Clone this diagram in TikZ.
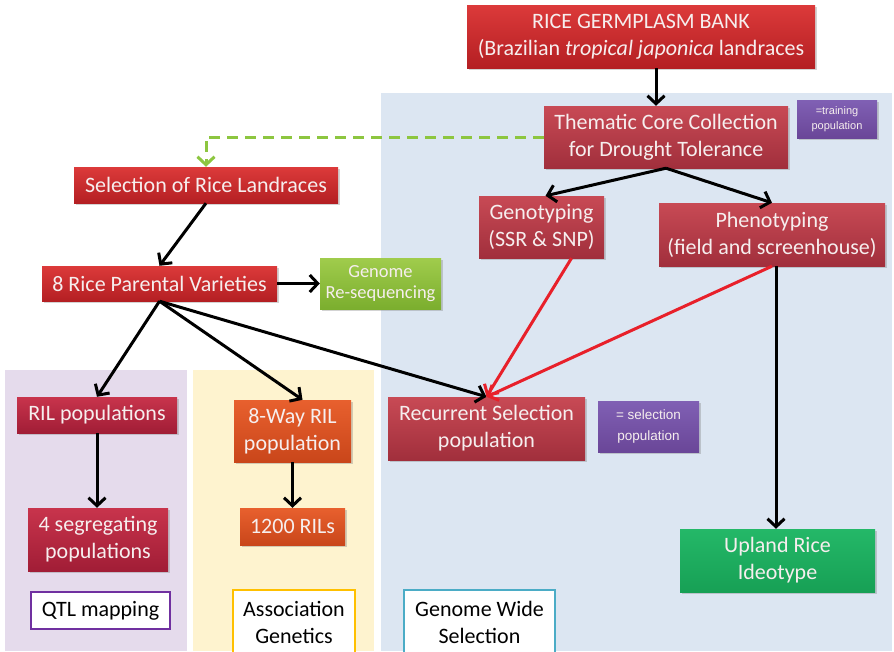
\documentclass[tikz,border=0pt]{standalone}
\usepackage{fontspec}
\setmainfont{Carlito}
\newfontfamily\arialf{Liberation Sans}
\usetikzlibrary{arrows.meta,shadows}
\definecolor{bgblue}{HTML}{DCE6F2}
\definecolor{bgpurple}{HTML}{E5DBEC}
\definecolor{bgyellow}{HTML}{FEF3CF}
\definecolor{redA}{HTML}{DC3A3A}
\definecolor{redB}{HTML}{B41F23}
\definecolor{mutA}{HTML}{C84A55}
\definecolor{mutB}{HTML}{A12F3C}
\definecolor{crimA}{HTML}{C8344C}
\definecolor{crimB}{HTML}{A11D36}
\definecolor{orA}{HTML}{E8602E}
\definecolor{orB}{HTML}{C9461A}
\definecolor{purA}{HTML}{8060B4}
\definecolor{purB}{HTML}{6A4698}
\definecolor{lgA}{HTML}{A0CC4C}
\definecolor{lgB}{HTML}{7BAE2E}
\definecolor{dgA}{HTML}{24B868}
\definecolor{dgB}{HTML}{17A055}
\definecolor{txt}{HTML}{F6EEEE}
\definecolor{dashgreen}{HTML}{8DC640}
\definecolor{arrred}{HTML}{E8202A}
\definecolor{qtlb}{HTML}{7030A0}
\definecolor{assb}{HTML}{FFC000}
\definecolor{gwsb}{HTML}{4BACC6}
\tikzset{
  boxbase/.style={rectangle, inner sep=2pt, align=center, text=txt,
    font=\fontsize{22}{27}\selectfont,
    drop shadow={shadow xshift=1.5pt, shadow yshift=-2pt, opacity=0.35}},
  redbox/.style={boxbase, top color=redA, bottom color=redB},
  mutbox/.style={boxbase, top color=mutA, bottom color=mutB},
  crimbox/.style={boxbase, top color=crimA, bottom color=crimB},
  orbox/.style={boxbase, top color=orA, bottom color=orB},
  purbox/.style={boxbase, top color=purA, bottom color=purB, font=\arialf\fontsize{11}{15}\selectfont},
  lgbox/.style={boxbase, top color=lgA, bottom color=lgB, font=\fontsize{18.5}{21}\selectfont},
  dgbox/.style={boxbase, top color=dgA, bottom color=dgB},
  labbox/.style={rectangle, fill=white, line width=2pt, align=center, text=black,
    font=\fontsize{22}{27}\selectfont},
  tip/.style={-{Straight Barb[length=8pt,width=17pt,line width=3pt]}},
  arr/.style={line width=3pt, tip},
}
\begin{document}
\begin{tikzpicture}[x=1pt,y=-1pt]
\useasboundingbox (0,0) rectangle (894,651);
% background panels
\fill[bgblue] (381,93) rectangle (892,651);
\fill[bgpurple] (5,370) rectangle (187,651);
\fill[bgyellow] (193,370) rectangle (374,651);

% nodes
\node[redbox, minimum width=348, minimum height=63] (bank) at (641,36.5)
  {RICE GERMPLASM BANK\\(Brazilian \textit{tropical japonica} landraces};
\node[mutbox, minimum width=244, minimum height=62] (core) at (666,137)
  {Thematic Core Collection\\for Drought Tolerance};
\node[purbox, minimum width=80, minimum height=38] (train) at (837,119)
  {=training\\population};
\node[redbox, minimum width=264, minimum height=36] (sel) at (206,185)
  {Selection of Rice Landraces};
\node[mutbox, minimum width=125, minimum height=62] (geno) at (541.5,227)
  {Genotyping\\(SSR \& SNP)};
\node[mutbox, minimum width=226, minimum height=63] (pheno) at (772,234.5)
  {Phenotyping\\(field and screenhouse)};
\node[redbox, minimum width=235, minimum height=35] (par) at (159.5,283.5)
  {8 Rice Parental Varieties};
\node[lgbox, minimum width=121, minimum height=51] (reseq) at (380.5,283.5)
  {Genome\\Re-sequencing};
\node[crimbox, minimum width=160, minimum height=36] (ril) at (97,415)
  {RIL populations};
\node[orbox, minimum width=117, minimum height=62] (way) at (292.5,431)
  {8-Way RIL\\population};
\node[mutbox, minimum width=197, minimum height=63] (rec) at (486.5,428.5)
  {Recurrent Selection\\population};
\node[purbox, minimum width=101, minimum height=51, font=\arialf\fontsize{13.5}{21}\selectfont] (spop) at (648.5,426.5)
  {= selection\\population};
\node[crimbox, minimum width=140, minimum height=63] (seg) at (98,539.5)
  {4 segregating\\populations};
\node[orbox, minimum width=105, minimum height=37] (rils) at (292.5,526.5)
  {1200 RILs};
\node[dgbox, minimum width=195, minimum height=63] (up) at (777.5,560.5)
  {Upland Rice\\Ideotype};
\node[labbox, draw=qtlb, minimum width=139, minimum height=37] (qtl) at (100.5,610.5)
  {QTL mapping};
\node[labbox, draw=assb, minimum width=122, minimum height=64] (ass) at (294,622)
  {Association\\Genetics};
\node[labbox, draw=gwsb, minimum width=151, minimum height=64] (gws) at (479.5,622)
  {Genome Wide\\Selection};

% connectors
\draw[arr] (bank.south -| 656,0) -- (core.north -| 656,0);
\draw[line width=3pt, dashgreen, dash pattern=on 11pt off 7pt, tip]
  (core.west) -| (sel.north);
\draw[arr] (core.south) -- ([xshift=4pt]geno.north);
\draw[arr] (core.south) -- (pheno.north);
\draw[arr] (sel.south) -- (par.north);
\draw[arr] (par.east) -- (reseq.west);
\draw[arr] (par.south) -- (ril.north);
\draw[arr] (par.south) -- ([xshift=10pt]way.north);
\draw[arr] (par.south) -- (rec.north);
\draw[line width=3pt, arrred, tip] ([xshift=30pt]geno.south) -- (rec.north);
\draw[line width=3pt, arrred, tip] (pheno.south) -- (rec.north);
\draw[arr] ([xshift=4pt]pheno.south) -- ([xshift=-1.5pt]up.north);
\draw[arr] (ril.south) -- (ril.south |- seg.north);
\draw[arr] (way.south) -- (way.south |- rils.north);
\end{tikzpicture}
\end{document}
